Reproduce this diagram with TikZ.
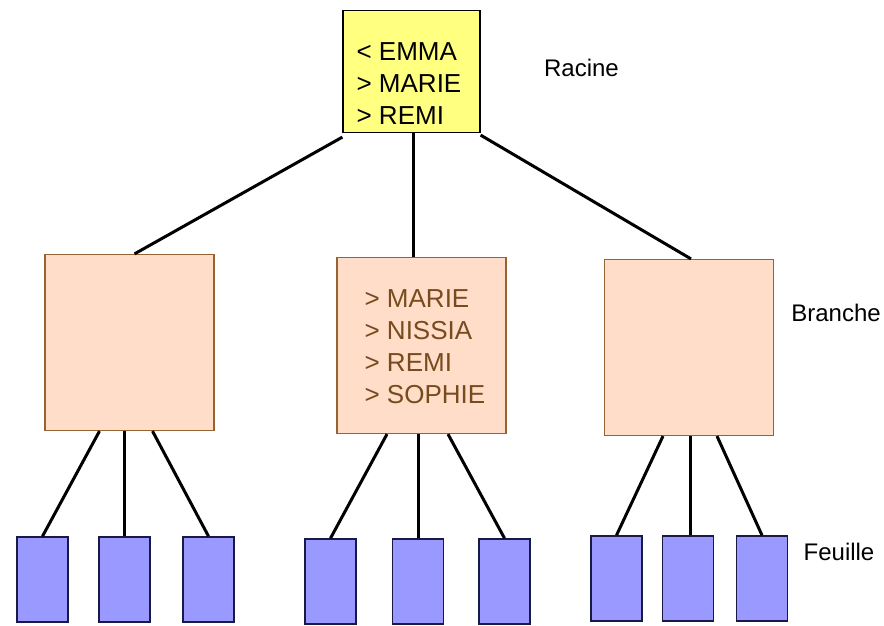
\documentclass[tikz,border=0pt]{standalone}
\usepackage{fontspec}
\setmainfont{Liberation Sans}
\definecolor{racinefill}{RGB}{255,255,128}
\definecolor{branchefill}{RGB}{255,221,200}
\definecolor{branchedraw}{RGB}{150,100,50}
\definecolor{branchetext}{RGB}{120,75,30}
\definecolor{feuillefill}{RGB}{153,153,255}
\definecolor{feuilledraw}{RGB}{25,25,70}
\begin{document}
\begin{tikzpicture}[x=1pt, y=-1pt,
  racine node/.style={rectangle, draw=black, line width=1.2pt, fill=racinefill, minimum width=137pt, minimum height=122pt},
  branche node/.style={rectangle, draw=branchedraw, line width=1.2pt, fill=branchefill, minimum width=169pt, minimum height=176pt},
  feuille node/.style={rectangle, draw=feuilledraw, line width=1.5pt, fill=feuillefill, minimum width=51pt, minimum height=85pt},
  txt/.style={align=left, anchor=west, font=\fontsize{26}{32}\selectfont},
  link/.style={draw=black, line width=3pt}]
        \tikzstyle{every node}=[font=\fontsize{24}{30}\selectfont, inner sep=0pt]
        \useasboundingbox (0,0) rectangle (884,626);

          % racine et branches
          \node[racine node] (1) at (411.5,71.5) {};
          \node[branche node] (3) [below of=1, node distance=274pt, xshift=10pt] {};
          \node[branche node] (2) [left of=3, node distance=292pt, yshift=3pt] {};
          \node[branche node] (4) [right of=3, node distance=267.5pt, yshift=-2pt] {};

          % feuilles
          \node[feuille node] (6) [below of=2, node distance=237pt, xshift=-5pt] {};
          \node[feuille node] (5) [left of=6, node distance=82pt] {};
          \node[feuille node] (7) [right of=6, node distance=84pt] {};
          \node[feuille node] (9) [below of=3, node distance=236pt, xshift=-3.5pt] {};
          \node[feuille node] (8) [left of=9, node distance=87.5pt] {};
          \node[feuille node] (10) [right of=9, node distance=86.5pt] {};
          \node[feuille node] (12) [below of=4, node distance=231pt, xshift=-1pt] {};
          \node[feuille node] (11) [left of=12, node distance=71.5pt] {};
          \node[feuille node] (13) [right of=12, node distance=74pt] {};

          % textes
          \node[txt] (t1) at ([shift={(14pt,-12pt)}]1.west) {< EMMA\\> MARIE\\> REMI};
          \node[txt, text=branchetext] (t3) at ([shift={(28pt,-1pt)}]3.west) {> MARIE\\> NISSIA\\> REMI\\> SOPHIE};
          \node[] (racine) [right of=1, node distance=170pt, yshift=3.5pt] {Racine};
          \node[] (branche) [right of=4, node distance=147pt, yshift=34.5pt] {Branche};
          \node[] (feuille) [right of=13, node distance=77pt, yshift=26.5pt] {Feuille};

          \path[link]
            ([yshift=-4pt]1.south west) edge ([xshift=5pt]2.north)
            (1.south -| 3.north) ++(-8pt,0) edge ([xshift=-8pt]3.north)
            ([yshift=-2pt]1.south east) edge ([xshift=2pt]4.north)
            ([xshift=-25pt]6.north |- 2.south) edge (5.north)
            (6.north |- 2.south) edge (6.north)
            ([xshift=28pt]6.north |- 2.south) edge (7.north)
            ([xshift=-31pt]9.north |- 3.south) edge (8.north)
            (9.north |- 3.south) edge (9.north)
            ([xshift=30pt]9.north |- 3.south) edge (10.north)
            ([xshift=-25pt]12.north |- 4.south) edge (11.north)
            ([xshift=2pt]12.north |- 4.south) edge ([xshift=2pt]12.north)
            ([xshift=29pt]12.north |- 4.south) edge (13.north);

        \end{tikzpicture}
\end{document}
